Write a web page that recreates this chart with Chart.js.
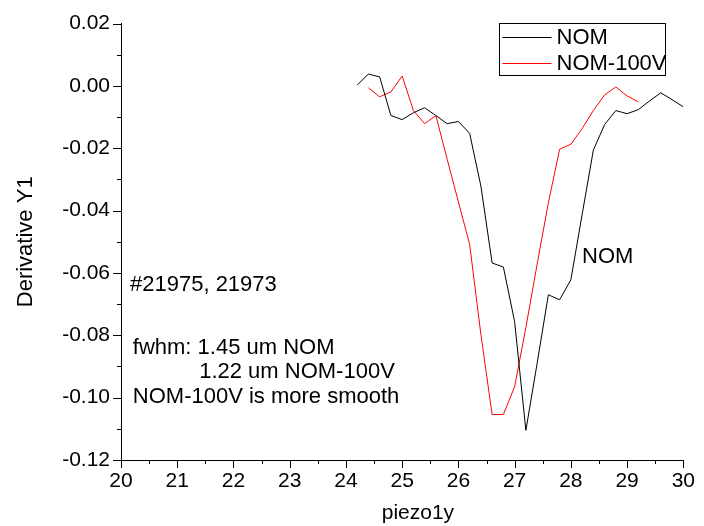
<!DOCTYPE html>
<html>
<head>
<meta charset="utf-8">
<script src="https://cdn.jsdelivr.net/npm/chart.js@4/dist/chart.umd.min.js"></script>
<style>
  html, body { margin: 0; padding: 0; background: #fff; }
  #wrap { width: 704px; height: 526px; }
</style>
</head>
<body>
<div id="wrap"><canvas id="chart" width="704" height="526"></canvas></div>
<script>
// piezo1y positions and derivative values for each run
const nomX = [24.2, 24.4, 24.6, 24.8, 25.0, 25.2, 25.4, 25.6, 25.8, 26.0,
              26.2, 26.4, 26.6, 26.8, 27.0, 27.2, 27.4, 27.6, 27.8, 28.0,
              28.2, 28.4, 28.6, 28.8, 29.0, 29.2, 29.4, 29.6, 29.8, 30.0];
const nomY = [0.0003, 0.0038, 0.0029, -0.0095, -0.0108, -0.0086, -0.0070, -0.0095, -0.0121, -0.0114,
              -0.0152, -0.0321, -0.0568, -0.0581, -0.0756, -0.1105, -0.0890, -0.0670, -0.0686, -0.0622,
              -0.0413, -0.0206, -0.0124, -0.0079, -0.0089, -0.0076, -0.0048, -0.0022, -0.0044, -0.0067];

const nom100X = [24.4, 24.6, 24.8, 25.0, 25.2, 25.4, 25.6, 25.8, 26.0, 26.2,
                 26.4, 26.6, 26.8, 27.0, 27.2, 27.4, 27.6, 27.8, 28.0, 28.2,
                 28.4, 28.6, 28.8, 29.0, 29.2];
const nom100Y = [-0.0006, -0.0035, -0.0019, 0.0032, -0.0079, -0.0121, -0.0095, -0.0235, -0.0372, -0.0508,
                 -0.0797, -0.1054, -0.1054, -0.0965, -0.0775, -0.0572, -0.0375, -0.0203, -0.0187, -0.0137,
                 -0.0079, -0.0029, -0.0003, -0.0032, -0.0051];

const seriesNames = ['NOM', 'NOM-100V'];
const seriesColors = ['#000000', '#ff0000'];

const xRange = [20, 30];
const yRange = [-0.12, 0.02];
const xStep = 1;
const yStep = 0.02;

const notes = [
  { text: '#21975, 21973', x: 20.16, y: -0.0638 },
  { text: 'fwhm: 1.45 um NOM', x: 20.21, y: -0.0841 },
  { text: '1.22 um NOM-100V', x: 21.39, y: -0.0917 },
  { text: 'NOM-100V is more smooth', x: 20.21, y: -0.0997 },
  { text: 'NOM', x: 28.2, y: -0.0549 }
];

const xTitle = 'piezo1y';
const FONT = 'Liberation Sans, Arial, sans-serif';

function pairs(xs, ys) {
  return xs.map((x, i) => ({ x: x, y: ys[i] }));
}

// Outward major and minor tick marks on both axes
const tickMarks = {
  id: 'tickMarks',
  afterDraw(chart) {
    const ctx = chart.ctx;
    const xs = chart.scales.x, ys = chart.scales.y;
    const area = chart.chartArea;
    ctx.save();
    ctx.strokeStyle = '#000';
    ctx.lineWidth = 1;
    ctx.beginPath();
    for (let i = 0; i <= 20; i++) {
      const v = xRange[0] + i * 0.5;
      const px = Math.round(xs.getPixelForValue(v)) + 0.5;
      const len = i % 2 === 0 ? 8 : 4;
      ctx.moveTo(px, area.bottom);
      ctx.lineTo(px, area.bottom + len);
    }
    for (let i = 0; i <= 14; i++) {
      const v = yRange[0] + i * 0.01;
      const py = Math.round(ys.getPixelForValue(v)) + 0.5;
      const len = i % 2 === 0 ? 8 : 4;
      ctx.moveTo(area.left, py);
      ctx.lineTo(area.left - len, py);
    }
    ctx.stroke();
    ctx.restore();
  }
};

// Free text notes placed in data coordinates, plus the x axis title
const noteText = {
  id: 'noteText',
  afterDraw(chart) {
    const ctx = chart.ctx;
    const xs = chart.scales.x, ys = chart.scales.y;
    ctx.save();
    ctx.fillStyle = '#000';
    ctx.font = '22px ' + FONT;
    ctx.textAlign = 'left';
    ctx.textBaseline = 'middle';
    notes.forEach(n => {
      ctx.fillText(n.text, xs.getPixelForValue(n.x), ys.getPixelForValue(n.y));
    });
    ctx.font = '21px ' + FONT;
    ctx.textAlign = 'center';
    ctx.fillText(xTitle, xs.getPixelForValue(25.28), 513);
    ctx.restore();
  }
};

// Boxed legend in the upper right corner
const boxLegend = {
  id: 'boxLegend',
  afterDraw(chart) {
    const ctx = chart.ctx;
    const left = 499.5, top = 23.5, w = 166, h = 52;
    ctx.save();
    ctx.fillStyle = '#fff';
    ctx.fillRect(left, top, w, h);
    ctx.strokeStyle = '#000';
    ctx.lineWidth = 1;
    ctx.strokeRect(left, top, w, h);
    ctx.font = '22px ' + FONT;
    ctx.textBaseline = 'middle';
    ctx.textAlign = 'left';
    chart.data.datasets.forEach((ds, i) => {
      const cy = top + 13 + i * 26;
      ctx.strokeStyle = ds.borderColor;
      ctx.beginPath();
      ctx.moveTo(left + 3, Math.round(cy) + 0.5);
      ctx.lineTo(left + 52, Math.round(cy) + 0.5);
      ctx.stroke();
      ctx.fillStyle = '#000';
      ctx.fillText(ds.label, left + 57, cy + 1);
    });
    ctx.restore();
  }
};

const chart = new Chart(document.getElementById('chart'), {
  type: 'line',
  data: {
    datasets: [
      { label: seriesNames[0], data: pairs(nomX, nomY), borderColor: seriesColors[0],
        borderWidth: 1, pointRadius: 0, tension: 0, fill: false },
      { label: seriesNames[1], data: pairs(nom100X, nom100Y), borderColor: seriesColors[1],
        borderWidth: 1, pointRadius: 0, tension: 0, fill: false }
    ]
  },
  options: {
    responsive: false,
    animation: false,
    devicePixelRatio: 1,
    layout: { padding: { top: 19, right: 16, left: 0, bottom: 0 } },
    plugins: { legend: { display: false }, tooltip: { enabled: false } },
    scales: {
      x: {
        type: 'linear',
        min: xRange[0], max: xRange[1],
        grid: { display: false, drawTicks: false },
        border: { display: true, color: '#000', width: 1 },
        ticks: {
          stepSize: xStep, color: '#000', padding: 9, maxRotation: 0,
          font: { family: FONT, size: 21 },
          callback: v => String(Math.round(v))
        },
        afterFit: s => { s.height = 66; }
      },
      y: {
        type: 'linear',
        min: yRange[0], max: yRange[1],
        grid: { display: false, drawTicks: false },
        border: { display: true, color: '#000', width: 1 },
        ticks: {
          stepSize: yStep, color: '#000', padding: 11,
          font: { family: FONT, size: 21 },
          callback: v => (Math.abs(v) < 1e-9 ? 0 : v).toFixed(2)
        },
        title: { display: true, text: 'Derivative Y1', color: '#000',
                 font: { family: FONT, size: 22 }, padding: { top: 13, bottom: 0 } },
        afterFit: s => { s.width = 121; }
      }
    }
  },
  plugins: [tickMarks, noteText, boxLegend]
});
</script>
</body>
</html>
